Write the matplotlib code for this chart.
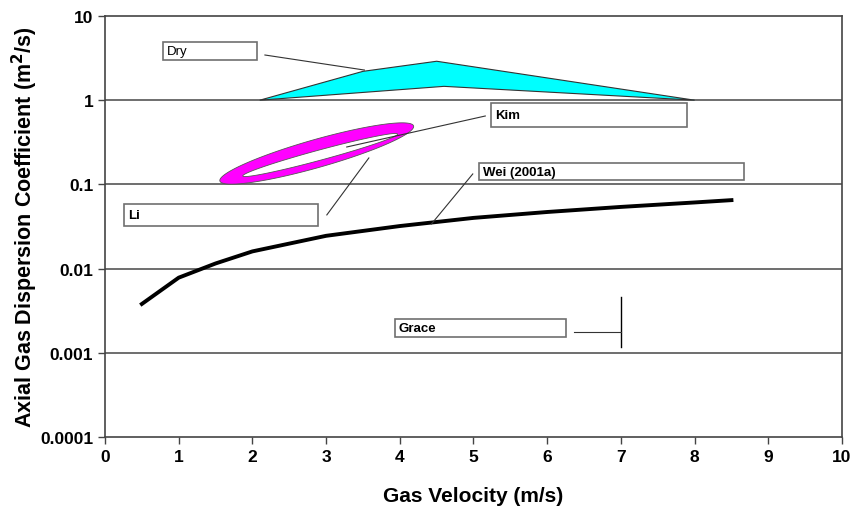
import numpy as np
import matplotlib
matplotlib.use('Agg')
import matplotlib.pyplot as plt
from matplotlib.patches import Rectangle, Polygon, PathPatch
from matplotlib.path import Path

plt.rcParams['font.family'] = ['Liberation Sans', 'DejaVu Sans']

# Wei (2001a) correlation curve
wei_x = [0.5, 1.0, 1.5, 2.0, 3.0, 4.0, 5.0, 6.0, 7.0, 8.0, 8.5]
wei_y = [0.0038, 0.0078, 0.0115, 0.0160, 0.0245, 0.032, 0.040, 0.047, 0.054, 0.061, 0.065]

# Dry region (upper edge, then lower edge back)
dry_x = [2.1, 3.5, 4.5, 8.0, 4.6, 2.1]
dry_y = [1.0, 2.2, 2.9, 1.0, 1.46, 1.0]

# Li / Kim ring: outer and inner ellipse in (x, log10 y)
outer_center = (2.873, -0.633)
outer_major = (1.314, 0.327)
outer_minor = (0.052, -0.160)
inner_center = (2.92, -0.651)
inner_major = (1.05, 0.249)
inner_minor = (0.019, -0.058)

# Grace range at 7 m/s
grace_x = 7.0
grace_lo = 0.00117
grace_hi = 0.0046
grace_mid = 0.00177

# label boxes: text, x0, x1, y0, y1, weight
labels = [
    ('Dry', 0.79, 2.06, 3.0, 4.9, 'normal'),
    ('Kim', 5.24, 7.90, 0.48, 0.93, 'bold'),
    ('Wei (2001a)', 5.08, 8.67, 0.113, 0.179, 'bold'),
    ('Li', 0.26, 2.89, 0.032, 0.0585, 'bold'),
    ('Grace', 3.93, 6.26, 0.00154, 0.00252, 'bold'),
]
# leader lines: (x0, y0, x1, y1)
leaders = [
    (2.17, 3.44, 3.52, 2.28),
    (5.16, 0.649, 3.28, 0.278),
    (3.01, 0.0434, 3.58, 0.206),
    (4.99, 0.133, 4.43, 0.0339),
    (6.37, grace_mid, grace_x, grace_mid),
]

yticks = [0.0001, 0.001, 0.01, 0.1, 1, 10]
ytick_labels = ['0.0001', '0.001', '0.01', '0.1', '1', '10']
xticks = list(range(0, 11))


def ellipse(c, maj, mnr, t):
    ex = c[0] + maj[0] * np.cos(t) + mnr[0] * np.sin(t)
    ey = c[1] + maj[1] * np.cos(t) + mnr[1] * np.sin(t)
    return np.column_stack([ex, 10 ** ey])


fig = plt.figure(figsize=(8.55, 5.1), dpi=100)
ax = fig.add_axes([0.1228, 0.1412, 0.862, 0.8255])
ax.set_yscale('log')
ax.set_xlim(0, 10)
ax.set_ylim(0.0001, 10)

for v in yticks[1:-1]:
    ax.axhline(v, color='#555555', lw=1.2, zorder=1)

poly = Polygon(list(zip(dry_x, dry_y)), closed=True, facecolor='#00ffff',
               edgecolor='#333333', lw=0.8, zorder=3)
ax.add_patch(poly)

t = np.linspace(0, 2 * np.pi, 300)
outer = ellipse(outer_center, outer_major, outer_minor, t)
inner = ellipse(inner_center, inner_major, inner_minor, t)[::-1]
verts = np.vstack([outer, inner])
codes = ([Path.MOVETO] + [Path.LINETO] * (len(outer) - 1)
         + [Path.MOVETO] + [Path.LINETO] * (len(inner) - 1))
ring = PathPatch(Path(verts, codes), facecolor='#ff00ff', edgecolor='#555555',
                 lw=0.6, zorder=3)
ax.add_patch(ring)

ax.plot(wei_x, wei_y, color='black', lw=2.8, zorder=4)

ax.plot([grace_x, grace_x], [grace_lo, grace_hi], color='black', lw=1.0, zorder=4)

for x0, y0, x1, y1 in leaders:
    ax.plot([x0, x1], [y0, y1], color='#333333', lw=0.8, zorder=5)

for txt, x0, x1, y0, y1, w in labels:
    ax.add_patch(Rectangle((x0, y0), x1 - x0, y1 - y0, facecolor='white',
                           edgecolor='#707070', lw=1.2, zorder=6))
    ax.text(x0 + 0.05, np.sqrt(y0 * y1), txt, fontsize=9.5, fontweight=w,
            va='center', ha='left', zorder=7)

ax.set_yticks(yticks)
ax.set_yticklabels(ytick_labels)
ax.yaxis.set_minor_locator(matplotlib.ticker.NullLocator())
ax.set_xticks(xticks)
ax.tick_params(axis='both', direction='out', length=5, width=1, color='#444444',
               labelsize=12.5)
for lab in ax.get_xticklabels() + ax.get_yticklabels():
    lab.set_fontweight('bold')

for s in ax.spines.values():
    s.set_color('#444444')
    s.set_linewidth(1.2)

ax.set_xlabel('Gas Velocity (m/s)', fontsize=15, fontweight='bold', labelpad=16)
ax.set_ylabel('Axial Gas Dispersion Coefficient (m$^\\mathbf{2}$/s)', fontsize=15.5,
              fontweight='bold', labelpad=0)

fig.savefig('out.png', dpi=100)
